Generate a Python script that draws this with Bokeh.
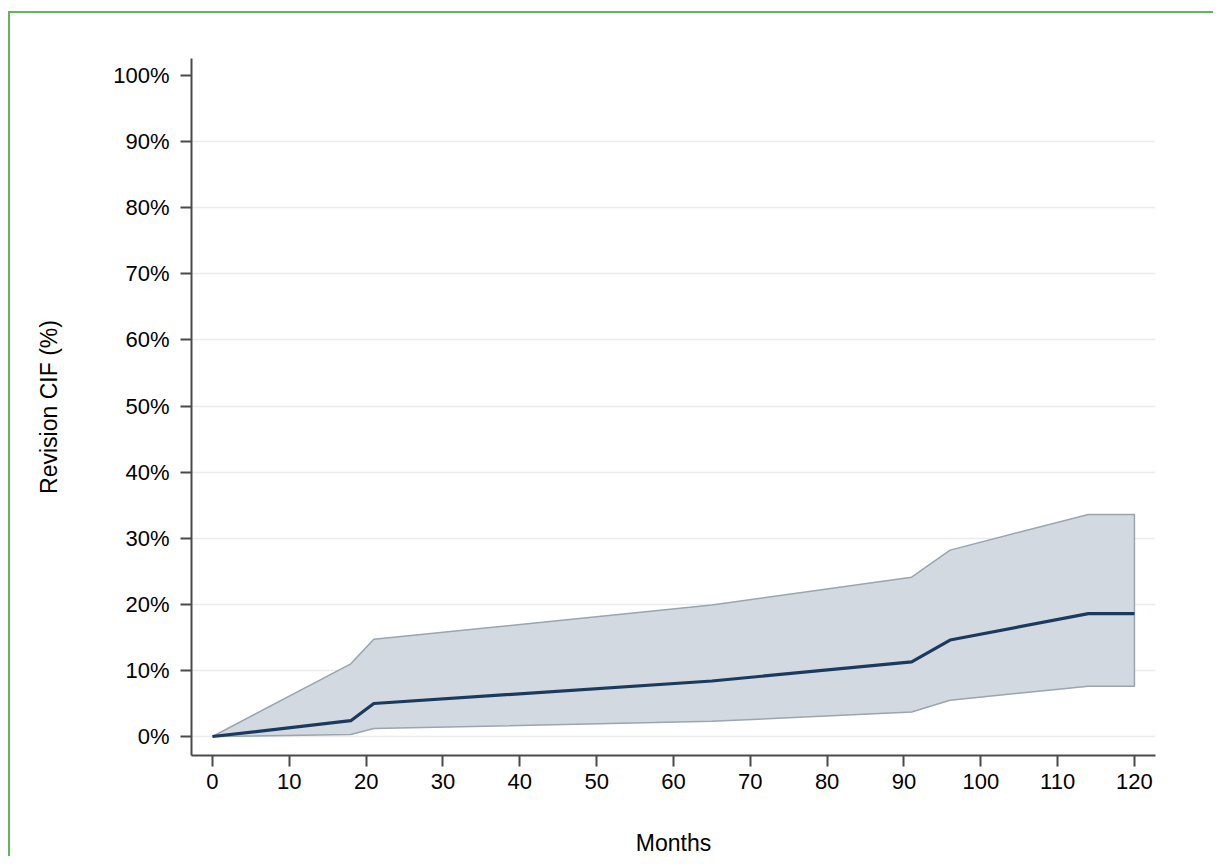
from bokeh.plotting import figure
from bokeh.models import FixedTicker, PrintfTickFormatter, Range1d
from bokeh.embed import file_html
from bokeh.resources import INLINE

# Data
months = [0, 18, 21, 65, 91, 96, 114, 120]
cif = [0.0, 2.4, 5.0, 8.4, 11.3, 14.6, 18.6, 18.6]
ci_upper = [0.0, 11.0, 14.7, 19.9, 24.1, 28.2, 33.6, 33.6]
ci_lower = [0.0, 0.3, 1.2, 2.3, 3.7, 5.5, 7.6, 7.6]

x_ticks = [0, 10, 20, 30, 40, 50, 60, 70, 80, 90, 100, 110, 120]
y_ticks = [0, 10, 20, 30, 40, 50, 60, 70, 80, 90, 100]
y_grid = [0, 10, 20, 30, 40, 50, 60, 70, 80, 90]

FONT = "Liberation Sans"
GREEN = "#63b45b"

p = figure(
    width=1205, height=845,
    output_backend="svg", toolbar_location=None,
    x_range=Range1d(-2.73, 122.74), y_range=Range1d(-2.87, 102.57),
    min_border_left=181, min_border_right=60,
    min_border_top=45, min_border_bottom=102,
    background_fill_color="white", border_fill_color="white",
    outline_line_color=None,
    x_axis_label="Months", y_axis_label="Revision CIF (%)",
)
p.styles = {
    "border-top": f"2px solid {GREEN}",
    "border-left": f"2px solid {GREEN}",
    "margin-top": "11px",
    "margin-left": "8px",
}

# Grid
p.xgrid.visible = False
p.ygrid.ticker = FixedTicker(ticks=y_grid)
p.ygrid.grid_line_color = "#ebebeb"
p.ygrid.grid_line_width = 1.5

# Axes
for ax in (p.xaxis[0], p.yaxis[0]):
    ax.axis_line_color = "#4a4a4a"
    ax.axis_line_width = 2
    ax.major_tick_line_color = "#4a4a4a"
    ax.major_tick_line_width = 2
    ax.major_tick_out = 11
    ax.major_tick_in = 0
    ax.minor_tick_line_color = None
    ax.major_label_text_font = FONT
    ax.major_label_text_font_size = "22px"
    ax.major_label_text_color = "black"
    ax.axis_label_text_font = FONT
    ax.axis_label_text_font_size = "23px"
    ax.axis_label_text_font_style = "normal"
    ax.axis_label_text_color = "black"

p.xaxis.ticker = FixedTicker(ticks=x_ticks)
p.yaxis.ticker = FixedTicker(ticks=y_ticks)
p.yaxis.formatter = PrintfTickFormatter(format="%d%%")
p.xaxis.major_label_standoff = 7
p.yaxis.major_label_standoff = 11
p.xaxis.axis_label_standoff = 38
p.yaxis.axis_label_standoff = 48

# Confidence band
band_x = months + months[::-1]
band_y = ci_upper + ci_lower[::-1]
p.patch(band_x, band_y, fill_color="#d2d9e1", fill_alpha=1.0,
        line_color="#9aa5b0", line_width=1.5)

# CIF line
p.line(months, cif, line_color="#1c3a5e", line_width=3.2, line_join="round")

open("out.html", "w").write(file_html(p, INLINE))
